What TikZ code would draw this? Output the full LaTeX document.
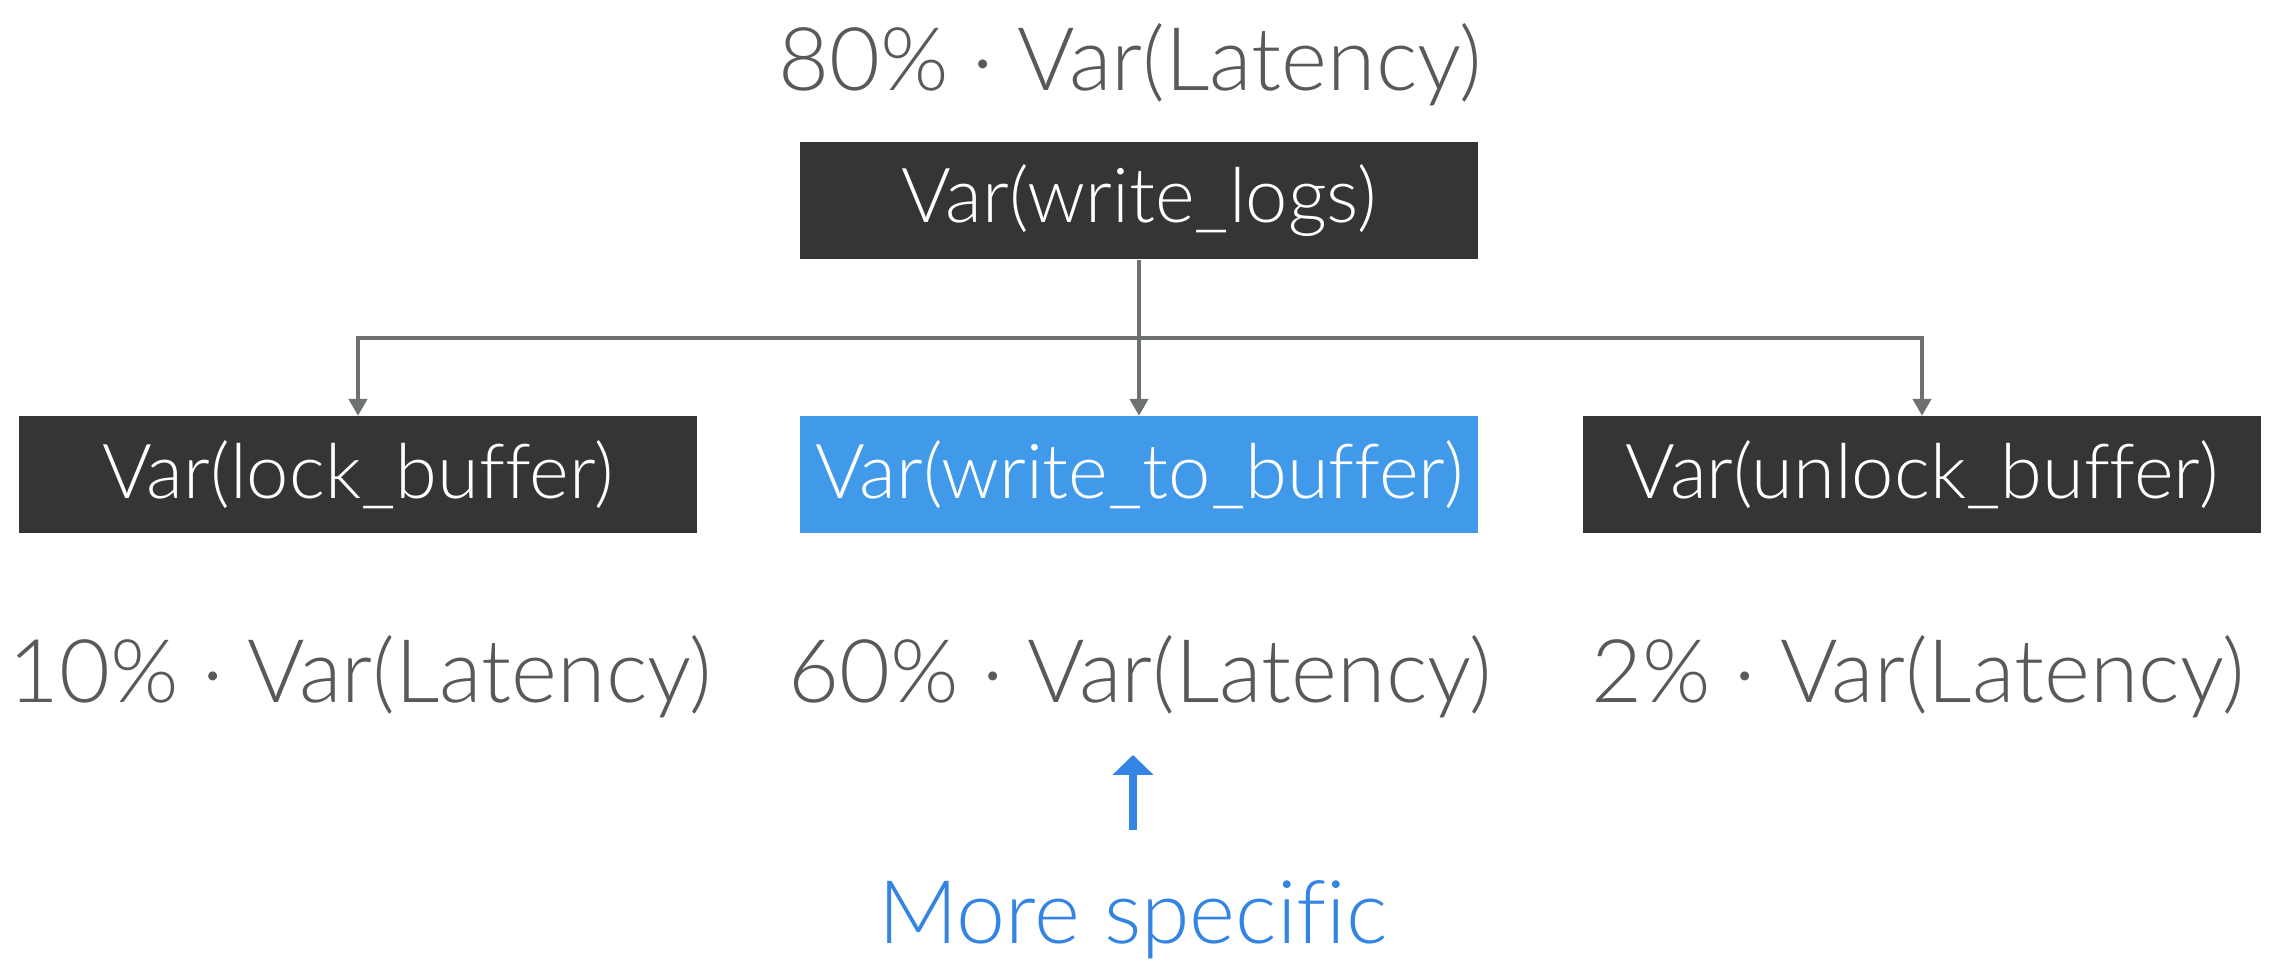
\documentclass[tikz,border=0pt]{standalone}
\usepackage{fontspec}
\setmainfont{Lato Light}[Ligatures=NoCommon]
\usetikzlibrary{arrows.meta}
\definecolor{boxdark}{HTML}{353535}
\definecolor{boxblue}{HTML}{4199EA}
\definecolor{txtgray}{HTML}{595959}
\definecolor{linegray}{HTML}{6D7171}
\definecolor{arrblue}{HTML}{3484E3}
\begin{document}
\begin{tikzpicture}[
	varbox/.style={fill=boxdark,text=white,minimum width=6.78cm,minimum height=1.17cm,inner sep=0pt,font=\fontsize{21.6}{26}\selectfont},
	share/.style={text=txtgray,inner sep=0pt,font=\fontsize{25}{30}\selectfont},
	link/.style={draw=linegray,line width=1.1pt,-{Triangle[width=4.5mm,length=4.2mm,scale=0.4]}}
	]
	\useasboundingbox (0,0) rectangle (22.77,9.65);
	\node[share] (lat) at (11.30,9.00) {80\% · Var(Latency)};
	\node[varbox] (logs) at (11.39,7.64) {Var(write\_logs)};
	\node[varbox] (lock) at (3.58,4.90) {Var(lock\_buffer)};
	\node[varbox,fill=boxblue] (wtb) at (11.39,4.90) {Var(write\_to\_buffer)};
	\node[varbox] (unlock) at (19.22,4.90) {Var(unlock\_buffer)};
	\draw[draw=linegray,line width=1.1pt] (logs.south) -- ++(0,-0.78) coordinate (split);
	\draw[link] (split) -| (lock.north);
	\draw[link] (split) -- (wtb.north);
	\draw[link] (split) -| (unlock.north);
	\node[share] (lockshare) at (3.60,2.88) {10\% · Var(Latency)};
	\node[share] (wtbshare) at (11.40,2.88) {60\% · Var(Latency)};
	\node[share] (unlockshare) at (19.18,2.88) {2\% · Var(Latency)};
	\coordinate (tail) at (11.33,1.35);
	\draw[arrblue,line width=2pt,-{Triangle[width=4mm,length=2mm]}] (tail) -- (11.33,2.10) coordinate (tip);
	\node[share,text=arrblue] (spec) at (11.33,0.45) {More specific};
\end{tikzpicture}
\end{document}
